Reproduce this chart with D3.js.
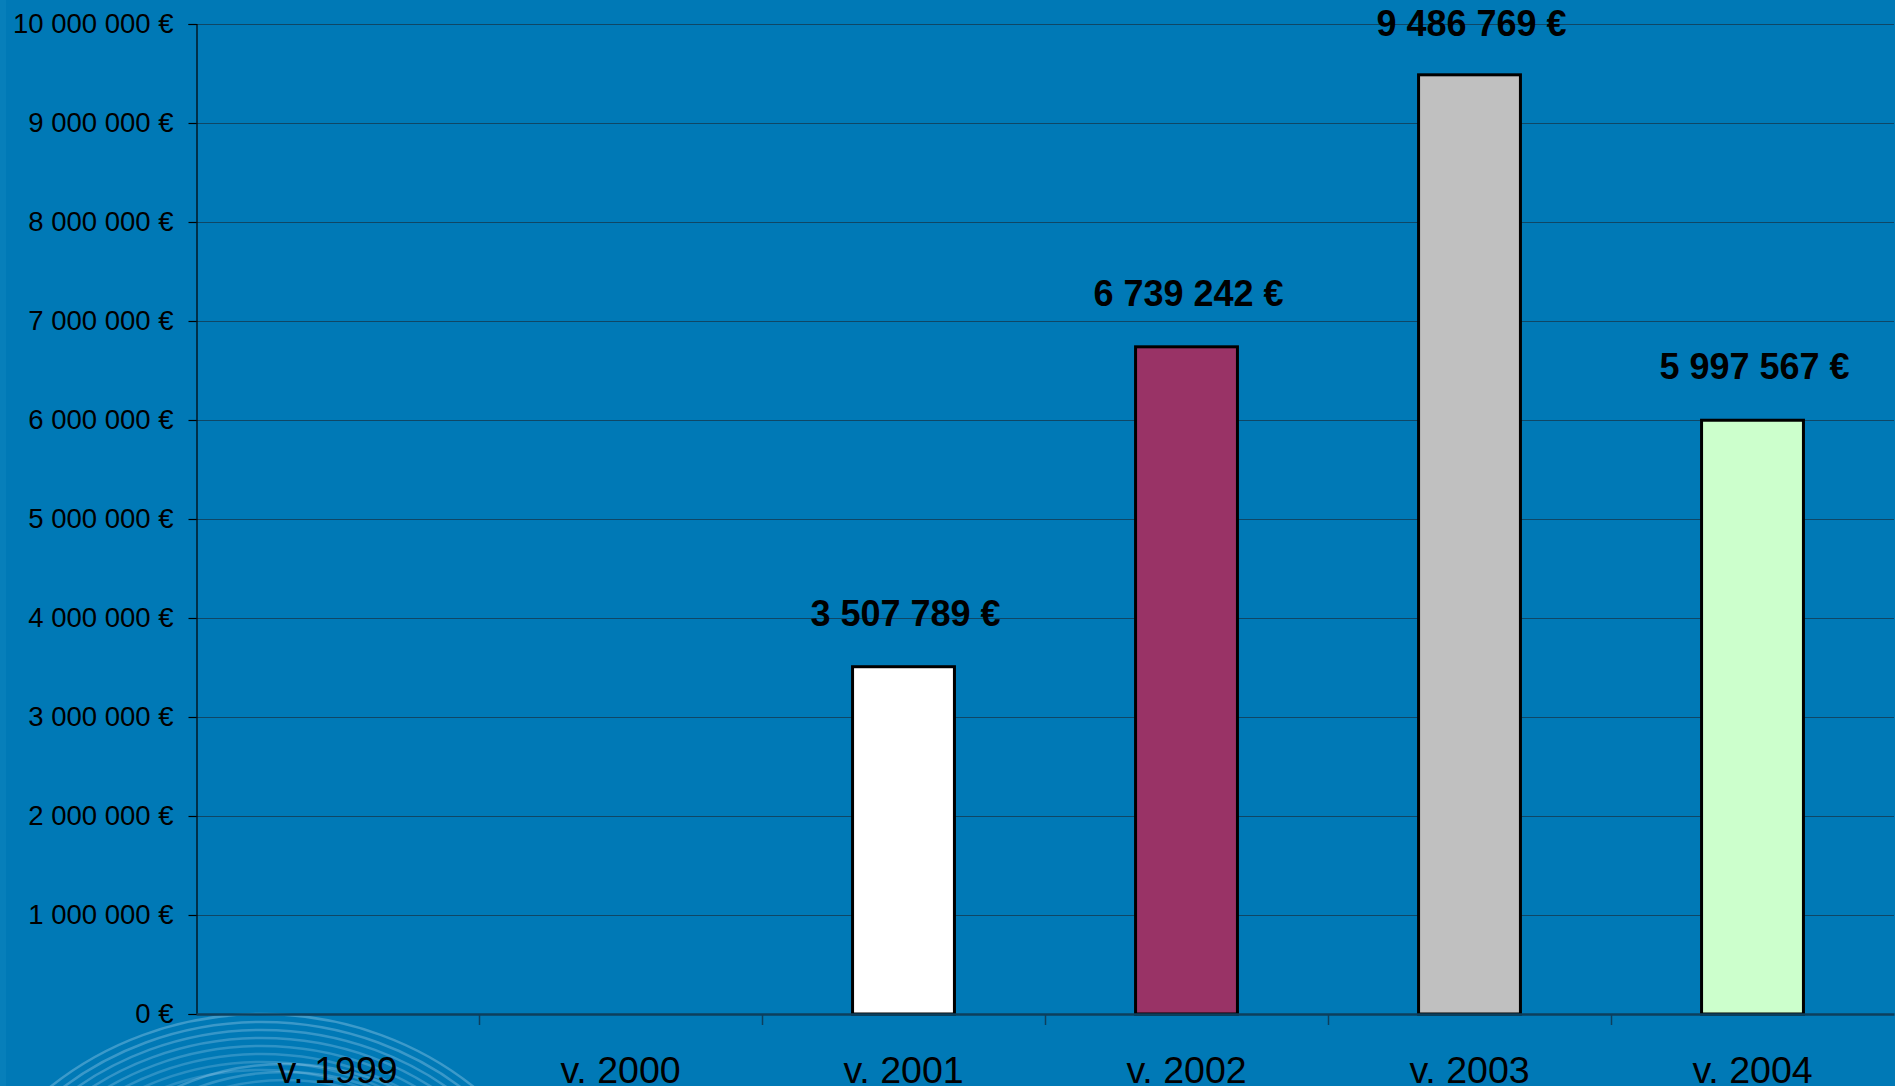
<!DOCTYPE html>
<html>
<head>
<meta charset="utf-8">
<script src="https://cdn.jsdelivr.net/npm/d3@7"></script>
<style>
  html, body { margin: 0; padding: 0; background: #0079b6; overflow: hidden; }
  svg { display: block; font-family: "Liberation Sans", Arial, sans-serif; }
</style>
</head>
<body>
<script>
// chart data
var years = ["v. 1999", "v. 2000", "v. 2001", "v. 2002", "v. 2003", "v. 2004"];
var amounts = [null, null, 3507789, 6739242, 9486769, 5997567];
var barColors = ["#ffffff", "#ffffff", "#ffffff", "#993366", "#c0c0c0", "#ccffcc"];
var yTicks = [0, 1000000, 2000000, 3000000, 4000000, 5000000, 6000000, 7000000, 8000000, 9000000, 10000000];

var W = 1895, H = 1086;
var margin = {top: 24, right: 1, bottom: 72, left: 196};

// euro formatting with spaces as thousands separator
var fi = d3.formatLocale({decimal: ",", thousands: " ", grouping: [3], currency: ["", " €"]});
var euro = fi.format("$,.0f");

var svg = d3.select("body").append("svg")
    .attr("width", W)
    .attr("height", H);

svg.append("rect")
    .attr("width", W)
    .attr("height", H)
    .attr("fill", "#0079b6");

// faint strip on the left border
svg.append("rect")
    .attr("width", 6)
    .attr("height", H)
    .attr("fill", "#077fba");

// decorative swirl in the bottom left corner
var swirl = svg.append("g").attr("fill", "none").attr("stroke", "#d8f0ff");
d3.range(8).forEach(function(i) {
  var r = 300 - i * 8;
  swirl.append("ellipse")
      .attr("cx", 262)
      .attr("cy", 1014 + 300)
      .attr("rx", r * 1.08)
      .attr("ry", r)
      .attr("stroke-width", 2.5)
      .attr("stroke-opacity", 0.28 - i * 0.015);
});
d3.range(5).forEach(function(i) {
  var r = 240 - i * 8;
  swirl.append("ellipse")
      .attr("cx", 285)
      .attr("cy", 1064 + 240)
      .attr("rx", r * 1.05)
      .attr("ry", r)
      .attr("stroke-width", 2.5)
      .attr("stroke-opacity", 0.25 - i * 0.03);
});

var x0 = margin.left, x1 = W - margin.right;
var y0 = H - margin.bottom, y1 = margin.top;

var xScale = d3.scaleBand()
    .domain(years)
    .range([x0, x1])
    .padding(0);

var yScale = d3.scaleLinear()
    .domain([0, 10000000])
    .range([y0, y1]);

// horizontal gridlines
svg.append("g")
    .selectAll("line")
    .data(yTicks.slice(1))
  .enter().append("line")
    .attr("x1", x0)
    .attr("x2", x1)
    .attr("y1", function(d) { return Math.round(yScale(d)) + 0.5; })
    .attr("y2", function(d) { return Math.round(yScale(d)) + 0.5; })
    .attr("stroke", "#0f4766")
    .attr("stroke-width", 1.2);

// y axis
var yAxis = d3.axisLeft(yScale)
    .tickValues(yTicks)
    .tickSize(8)
    .tickPadding(15)
    .tickFormat(euro);

var gy = svg.append("g")
    .attr("transform", "translate(" + (x0 + 0.5) + ",0)")
    .call(yAxis);
gy.select(".domain").attr("stroke", "#000").attr("stroke-width", 1.2);
gy.selectAll(".tick line").attr("stroke", "#000").attr("stroke-width", 1.2);
gy.selectAll(".tick text")
    .attr("fill", "#000")
    .style("font-size", "27.5px")
    .style("font-family", "'Liberation Sans', Arial, sans-serif");

// bars
var barW = xScale.bandwidth() * 0.36;
var data = years.map(function(y, i) { return {year: y, value: amounts[i], color: barColors[i]}; })
    .filter(function(d) { return d.value != null; });

svg.selectAll(".bar")
    .data(data)
  .enter().append("rect")
    .attr("class", "bar")
    .attr("x", function(d) { return xScale(d.year) + (xScale.bandwidth() - barW) / 2; })
    .attr("y", function(d) { return yScale(d.value); })
    .attr("width", barW)
    .attr("height", function(d) { return yScale(0) - yScale(d.value); })
    .attr("fill", function(d) { return d.color; })
    .attr("stroke", "#000")
    .attr("stroke-width", 3);

// value labels above the bars
svg.selectAll(".label")
    .data(data)
  .enter().append("text")
    .attr("class", "label")
    .attr("x", function(d) { return xScale(d.year) + xScale.bandwidth() / 2 + 2; })
    .attr("y", function(d) { return Math.max(yScale(d.value) - 41, 36); })
    .attr("text-anchor", "middle")
    .style("font-size", "36px")
    .style("font-weight", "bold")
    .attr("fill", "#000")
    .text(function(d) { return euro(d.value); });

// x axis
var xAxis = d3.axisBottom(xScale).tickSize(0).tickPadding(0);
var gx = svg.append("g")
    .attr("transform", "translate(0," + y0 + ")")
    .call(xAxis);
gx.select(".domain").attr("stroke", "#0d3f5c").attr("stroke-width", 2.5);
gx.selectAll(".tick text")
    .attr("y", 69)
    .attr("dy", null)
    .attr("fill", "#000")
    .style("font-size", "37.5px")
    .style("font-family", "'Liberation Sans', Arial, sans-serif");

// category separator ticks
svg.append("g")
    .selectAll("line")
    .data(years.slice(1))
  .enter().append("line")
    .attr("x1", function(d) { return Math.round(xScale(d)) + 0.5; })
    .attr("x2", function(d) { return Math.round(xScale(d)) + 0.5; })
    .attr("y1", y0)
    .attr("y2", y0 + 11)
    .attr("stroke", "#0d3f5c")
    .attr("stroke-width", 1.5);
</script>
</body>
</html>
